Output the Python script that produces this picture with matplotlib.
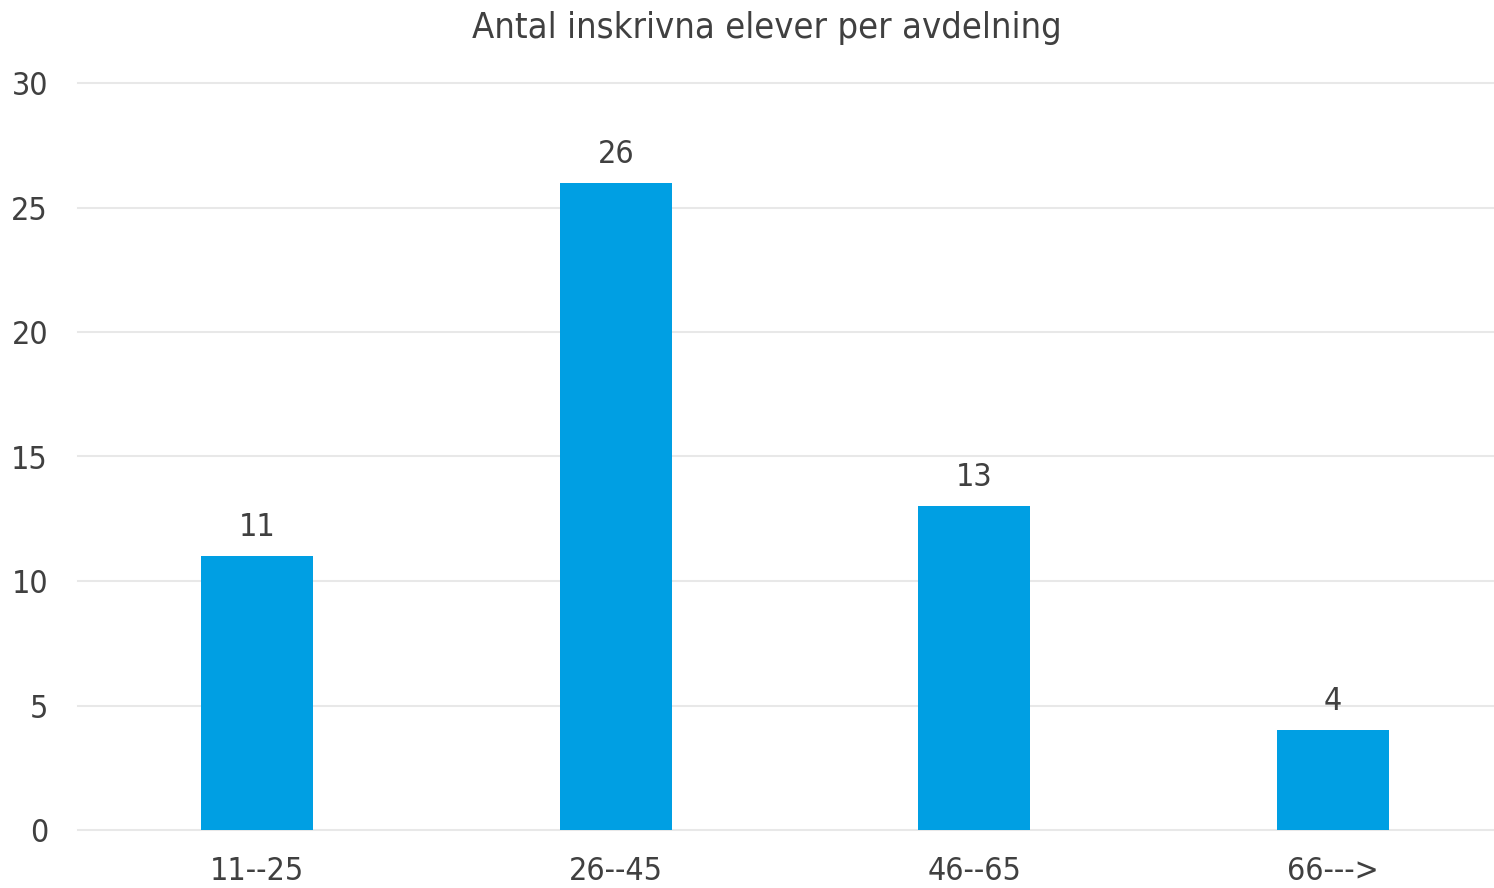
import matplotlib
matplotlib.use("Agg")
import matplotlib.pyplot as plt

categories = ["11--25", "26--45", "46--65", "66--->"]
values = [11, 26, 13, 4]
yticks = [0, 5, 10, 15, 20, 25, 30]
title = "Antal inskrivna elever per avdelning"

plt.rcParams['font.family'] = ['DejaVu Sans']
plt.rcParams['font.stretch'] = 'condensed'
text_color = "#404040"
bar_color = "#009FE3"
grid_color = "#E8E8E8"

fig = plt.figure(figsize=(14.94, 8.88), dpi=100)
ax = fig.add_axes([78/1494, 1-830/888, 1-78/1494, (830-83)/888])

x = list(range(len(categories)))
ax.bar(x, values, width=0.313, color=bar_color, zorder=3)
for xi, v in zip(x, values):
    ax.annotate(str(v), (xi, v), xytext=(0, 14.4), textcoords="offset points",
                ha="center", va="baseline", fontsize=23, color=text_color)

ax.set_xlim(-0.5, 3.45)
ax.set_ylim(0, 30)
ax.set_yticks(yticks)
ax.set_xticks(x)
ax.set_xticklabels(categories)
ax.tick_params(axis='both', length=0, labelsize=23, colors=text_color)
ax.tick_params(axis='y', pad=21.6)
ax.tick_params(axis='x', pad=19)
ax.grid(axis='y', color=grid_color, linewidth=1.5, zorder=0)
for gl in ax.get_ygridlines():
    gl.set_clip_on(False)
for s in ax.spines.values():
    s.set_visible(False)

fig.text(767/1494, 1-38/888, title, ha="center", va="baseline", fontsize=26, color=text_color)

fig.savefig("out.png", dpi=100)
